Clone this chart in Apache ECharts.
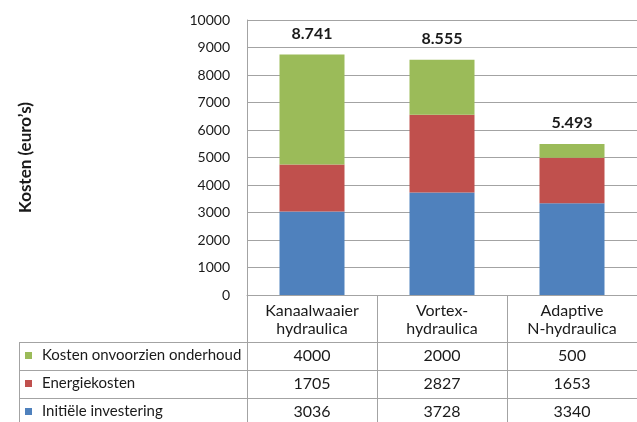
<!DOCTYPE html>
<html>
<head>
<meta charset="utf-8">
<script src="https://cdn.jsdelivr.net/npm/echarts@6/dist/echarts.min.js"></script>
<style>
html,body{margin:0;padding:0;background:#fff;overflow:hidden;}
#chart{width:637px;height:422px;}
</style>
</head>
<body>
<div id="chart"></div>
<script>
const categories = ['Kanaalwaaier\nhydraulica', 'Vortex-\nhydraulica', 'Adaptive\nN-hydraulica'];
const seriesNames = ['Kosten onvoorzien onderhoud', 'Energiekosten', 'Initiële investering'];
const onderhoud = [4000, 2000, 500];
const energie = [1705, 2827, 1653];
const investering = [3036, 3728, 3340];
const yTicks = [0, 10000, 1000];

const totals = categories.map((c, i) => onderhoud[i] + energie[i] + investering[i]);
const fmt = v => String(v).replace(/\B(?=(\d{3})+(?!\d))/g, '.');

const FONT = 'Lato';
const GRAY = '#a3a3a3';
const TXT = '#1a1a1a';
const colors = {green: '#9BBB59', red: '#C0504D', blue: '#4F81BD'};

const chart = echarts.init(document.getElementById('chart'), null, {renderer: 'canvas'});

function rowAxis(values, offset) {
  return {
    type: 'category', gridIndex: 0, position: 'bottom', offset: offset,
    data: values.map(String),
    axisLine: {show: true, lineStyle: {color: GRAY, width: 1}},
    axisTick: {show: true, interval: 0, length: 28, lineStyle: {color: GRAY}},
    axisLabel: {interval: 0, margin: 6, fontFamily: FONT, fontSize: 16, color: TXT},
    splitLine: {show: false}
  };
}

function rowLegend(name, top) {
  return {
    orient: 'vertical', left: 25, top: top, itemWidth: 7, itemHeight: 7,
    icon: 'rect', selectedMode: false, padding: 0,
    data: [name],
    textStyle: {fontFamily: FONT, fontSize: 15, color: TXT, padding: [0, 0, 0, 5]}
  };
}

const option = {
  animation: false,
  textStyle: {fontFamily: FONT},
  grid: {left: 247, top: 20, right: -9, bottom: 127, containLabel: false},
  legend: [
    rowLegend(seriesNames[0], 348),
    rowLegend(seriesNames[1], 376),
    rowLegend(seriesNames[2], 404)
  ],
  xAxis: [
    {
      type: 'category', gridIndex: 0, data: categories,
      axisLine: {show: true, lineStyle: {color: GRAY, width: 1}},
      axisTick: {show: true, interval: 0, length: 47, lineStyle: {color: GRAY}},
      axisLabel: {interval: 0, margin: 7, fontFamily: FONT, fontSize: 16, color: TXT, lineHeight: 18},
      splitLine: {show: false}
    },
    rowAxis(onderhoud, 47),
    rowAxis(energie, 75),
    rowAxis(investering, 103)
  ],
  yAxis: {
    type: 'value', min: yTicks[0], max: yTicks[1], interval: yTicks[2],
    name: 'Kosten (euro’s)', nameLocation: 'middle', nameRotate: 90, nameGap: 213,
    nameTextStyle: {fontFamily: FONT, fontSize: 17, fontWeight: 'bold', color: TXT},
    axisLine: {show: true, lineStyle: {color: GRAY, width: 1}},
    axisTick: {show: false},
    axisLabel: {margin: 17, fontFamily: FONT, fontSize: 14, color: TXT, formatter: v => String(v)},
    splitLine: {show: true, lineStyle: {color: GRAY, width: 1}}
  },
  series: [
    {name: seriesNames[2], type: 'bar', stack: 'total', xAxisIndex: 0, barWidth: '50%',
     itemStyle: {color: colors.blue}, data: investering},
    {name: seriesNames[1], type: 'bar', stack: 'total', xAxisIndex: 0,
     itemStyle: {color: colors.red}, data: energie},
    {name: seriesNames[0], type: 'bar', stack: 'total', xAxisIndex: 0,
     itemStyle: {color: colors.green}, data: onderhoud,
     label: {show: true, position: 'top', distance: 13, fontFamily: FONT, fontSize: 16, fontWeight: 'bold', color: TXT,
       formatter: p => fmt(totals[p.dataIndex])}}
  ],
  graphic: [
    {type: 'line', shape: {x1: 19, y1: 342.5, x2: 247, y2: 342.5}, style: {stroke: GRAY, lineWidth: 1}},
    {type: 'line', shape: {x1: 19, y1: 370.5, x2: 247, y2: 370.5}, style: {stroke: GRAY, lineWidth: 1}},
    {type: 'line', shape: {x1: 19, y1: 398.5, x2: 247, y2: 398.5}, style: {stroke: GRAY, lineWidth: 1}},
    {type: 'line', shape: {x1: 19.5, y1: 342, x2: 19.5, y2: 430}, style: {stroke: GRAY, lineWidth: 1}}
  ]
};
chart.setOption(option);
</script>
</body>
</html>
